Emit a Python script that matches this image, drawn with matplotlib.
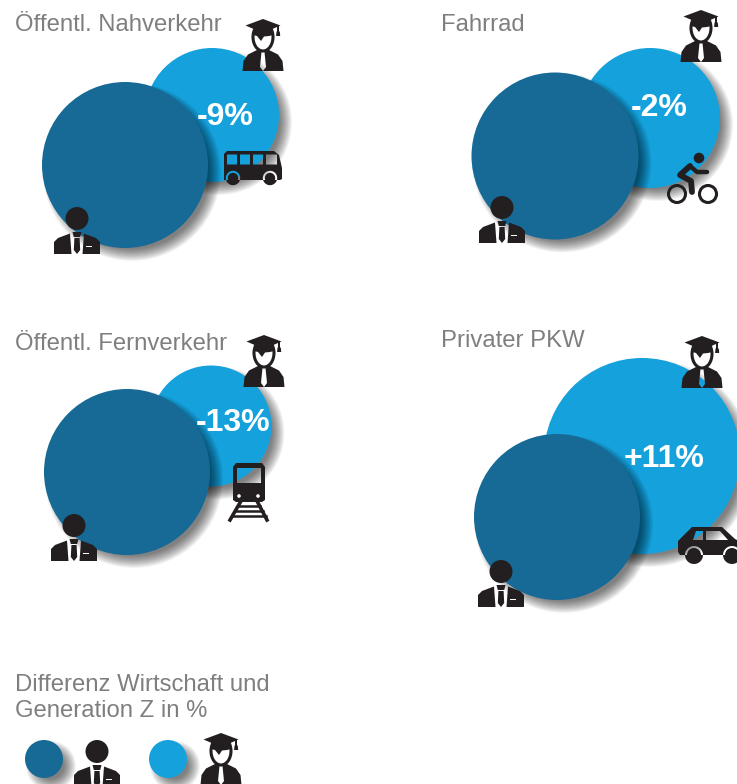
import numpy as np
import matplotlib
matplotlib.use("Agg")
import matplotlib.pyplot as plt
from matplotlib.patches import Circle, Ellipse, Polygon, PathPatch
from matplotlib.path import Path

WIDTH, HEIGHT = 737, 784

titles = ["Öffentl. Nahverkehr", "Fahrrad", "Öffentl. Fernverkehr", "Privater PKW"]
differences = [-9, -2, -13, 11]
legend_lines = ["Differenz Wirtschaft und", "Generation Z in %"]

title_pos = [(15, 31), (441, 31), (15, 350), (441, 347)]
economy_circles = [(125, 165, 83), (555, 156, 83.5), (127, 472, 83), (557, 517, 83)]
genz_circles = [(212, 115, 67), (650, 118, 70), (211, 426, 60.5), (642, 456, 98)]
label_pos = [(225, 117), (659, 108), (233, 423), (664, 459)]
economy_icons = [(77, 207), (502, 196), (74, 514), (501, 560)]
genz_icons = [(263, 19), (701, 10), (264, 335), (702, 336)]

DARK = "#176a96"
LIGHT = "#14a1dc"
ICON = "#231f20"
GREY = "#7f7f7f"

plt.rcParams["font.family"] = ["Liberation Sans", "DejaVu Sans"]

fig = plt.figure(figsize=(WIDTH / 100, HEIGHT / 100), dpi=100)
ax = fig.add_axes([0, 0, 1, 1])
ax.set_xlim(0, WIDTH)
ax.set_ylim(HEIGHT, 0)
ax.axis("off")


def disc(x, y, r, color, z):
    # soft shadow built from stacked translucent discs
    steps = 16
    spread = 6
    for i in range(steps):
        rad = r + spread * (1 - 2 * i / (steps - 1))
        ax.add_patch(Circle((x + 7, y + 7), rad, color="black", alpha=0.04, lw=0, zorder=z))
    ax.add_patch(Circle((x, y), r, color=color, lw=0, zorder=z + 0.1))


def shape(verts, x, y, z=10, color=ICON):
    ax.add_patch(Polygon([(x + a, y + b) for a, b in verts], closed=True, color=color, lw=0, zorder=z))


def compound(parts, z=10):
    # several closed outlines in one path, opposite winding leaves holes
    verts, codes = [], []
    for part in parts:
        p = list(part)
        verts += p + [p[0]]
        codes += [Path.MOVETO] + [Path.LINETO] * (len(p) - 1) + [Path.CLOSEPOLY]
    ax.add_patch(PathPatch(Path(verts, codes), facecolor=ICON, lw=0, zorder=z))


def ring(x, y, r, n=40):
    t = np.linspace(0, 2 * np.pi, n, endpoint=False)
    return [(x + r * np.cos(a), y + r * np.sin(a)) for a in t]


def economy_person(x, y):
    # x is the head centre, y the top of the head
    ax.add_patch(Circle((x, y + 11.5), 11.5, color=ICON, lw=0, zorder=10))
    shape([(-23, 47), (-23, 35), (-19, 31), (-7, 26.5), (-5.5, 47)], x, y)
    shape([(23, 47), (23, 35), (19, 31), (7, 26.5), (5.5, 47)], x, y)
    shape([(-4.5, 25), (4.5, 25), (3.2, 30), (-3.2, 30)], x, y)
    shape([(-2.6, 31), (2.6, 31), (3.2, 43), (0, 47), (-3.2, 43)], x, y)
    shape([(9, 38.5), (15, 38.5), (15, 40), (9, 40)], x, y, 11, "white")


def graduate(x, y):
    # x is the cap centre, y the top of the cap
    body = [(-20.5, 52), (-19.5, 42), (-15, 35.5), (-6, 31), (6, 31), (15, 35.5), (19.5, 42), (20.5, 52)]
    tie = [(-1.5, 33), (-3, 48), (0, 52), (3, 48), (1.5, 33)]
    compound([[(x + a, y + b) for a, b in body], [(x + a, y + b) for a, b in tie]])
    ax.add_patch(Ellipse((x, y + 18), 20, 28, facecolor="white", edgecolor=ICON, lw=2.2, zorder=10.5))
    # hair line under the cap
    shape([(-10, 11), (10, 11), (10, 16), (6, 17), (1, 17.5), (-2, 22), (-6, 17), (-10, 16)], x, y, 10.6)
    shape([(-17.5, 6.5), (0, 0), (17.5, 6.5), (0, 14)], x, y, 11)
    shape([(14.5, 7), (15.8, 7), (15.8, 13), (14.5, 13)], x, y, 11)
    shape([(13.5, 12.5), (16.8, 12.5), (17.2, 17), (13.1, 17)], x, y, 11)


def bus():
    outer = [(224, 154), (227, 151), (274, 151), (279, 155), (282, 168), (282, 179), (280, 180),
             (224, 180)]
    windows = []
    for left, right in [(227, 237), (240, 250), (253, 263), (266, 277)]:
        top, bottom = 154.5, 164.5
        windows.append([(left, top), (left, bottom), (right, bottom), (right, top)])
    arches = [ring(233, 178, 7.2)[::-1], ring(270, 178, 7.2)[::-1]]
    compound([outer] + windows + arches)
    for cx in (233, 270):
        ax.add_patch(Circle((cx, 178), 5.2, color=ICON, lw=0, zorder=11))


def bicycle():
    for cx in (677, 708):
        ax.add_patch(Circle((cx, 194), 8.5, facecolor="none", edgecolor=ICON, lw=2.2, zorder=10))
    ax.add_patch(Circle((699, 158), 5.3, color=ICON, lw=0, zorder=10))
    ax.plot([690, 680, 691, 692], [166, 175, 181, 192], color=ICON, lw=4.2, zorder=10,
            solid_capstyle="round", solid_joinstyle="round")
    ax.plot([690, 697, 707], [166, 172, 172], color=ICON, lw=3.2, zorder=10,
            solid_capstyle="round", solid_joinstyle="round")


def train():
    outer = [(233, 467), (236, 463), (262, 463), (265, 467), (265, 500), (262, 502), (236, 502), (233, 500)]
    window = [(237, 483), (261, 483), (261, 468), (237, 468)]
    compound([outer, window])
    for cx in (239, 258):
        ax.add_patch(Circle((cx, 496), 1.8, color="white", lw=0, zorder=11))
    ax.plot([241, 230], [501, 520], color=ICON, lw=2.6, zorder=10)
    ax.plot([257, 267], [501, 520], color=ICON, lw=2.6, zorder=10)
    for y, half in zip((506, 511, 516), (11, 14, 17)):
        ax.plot([249 - half, 249 + half], [y, y], color=ICON, lw=1.8, zorder=10)


def car():
    outer = [(678, 541), (692, 527), (722, 527), (735, 539), (737, 540), (737, 555), (680, 555), (678, 552)]
    windows = [[(693, 540), (703, 540), (703, 531), (696, 531)],
               [(706, 540), (728, 540), (720, 531), (706, 531)]]
    compound([outer] + windows + [ring(694, 555, 9)[::-1], ring(732, 555, 9)[::-1]])
    for cx in (694, 732):
        ax.add_patch(Circle((cx, 555), 7, color=ICON, lw=0, zorder=11))


for i, title in enumerate(titles):
    gx, gy, gr = genz_circles[i]
    ex, ey, er = economy_circles[i]
    disc(gx, gy, gr, LIGHT, 2)
    disc(ex, ey, er, DARK, 3)
    ax.text(*title_pos[i], title, fontsize=17.2, color=GREY, zorder=12)
    ax.text(*label_pos[i], f"{differences[i]:+d}%", fontsize=23, fontweight="bold", color="white",
            ha="center", va="center", zorder=12)
    economy_person(*economy_icons[i])
    graduate(*genz_icons[i])

bus()
bicycle()
train()
car()

# key at the bottom
ax.text(15, 691, legend_lines[0], fontsize=17.2, color=GREY)
ax.text(15, 717, legend_lines[1], fontsize=17.2, color=GREY)
disc(44, 759, 19, DARK, 2)
disc(168, 759, 19, LIGHT, 2)
economy_person(97, 740)
graduate(221, 733)

fig.savefig("out.png", dpi=100)
